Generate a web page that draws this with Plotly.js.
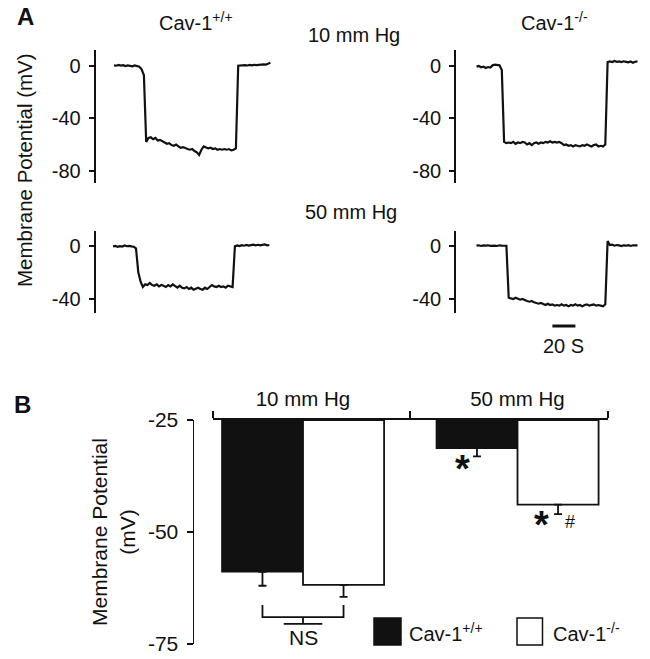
<!DOCTYPE html>
<html><head><meta charset="utf-8">
<script src="https://cdn.plot.ly/plotly-3.0.1.min.js"></script>
<style>html,body{margin:0;padding:0;background:#fff}#chart{width:650px;height:659px}</style>
</head><body><div id="chart"></div>
<script>
// ---------------- DATA ----------------
// Panel A: membrane potential recordings (mV), sampled every 2 s
const timeS = [0,2,4,6,8,10,12,14,16,18,20,22,24,26,28,30,32,34,36,38,40,42,44,46,48,50,52,54,56,58,60,62,64,66,68,70,72,74,76,78,80,82,84,86,88,90,92,94,96,98,100,102,104,106,108,110,112,114,116,118,120,122,124,126,128,130,132,134,136,138,140,142];
const wt10mmHg = [0.5,0.2,0.8,0.3,0.6,0.0,0.5,0.3,-0.2,0.4,0.1,-0.5,-2.5,-7,
  -58,-55,-54.5,-56,-55,-57,-56.5,-57.5,-58,-59.5,
  -59,-60.5,-61,-60,-61.5,-62.5,-62,-63,-63.5,-64,
  -63.5,-65,-66,-68,-64,-61.5,-62.5,-63,-62.5,-63.5,
  -63,-64,-63.5,-64,-63.5,-64,-63.5,-64.5,-64,-63,
  0.2,0.5,0.3,0.6,0.4,0.8,0.5,0.9,0.7,1.0,
  1.0,1.2,1.0,1.8,2.5];
const ko10mmHg = [-0.5,0,-1,-0.5,-1.5,-0.8,-1.2,0.5,1,0.8,0.5,-3,
  -58,-59,-58.5,-59,-58,-59.5,-58.5,-59,-58,-58.5,
  -60,-59,-60.5,-59,-58.5,-59.5,-58.5,-59,-58,-58.5,
  -57.5,-58.5,-58,-58.5,-58,-59,-60.5,-60,-61,-60.5,
  -61.5,-60.5,-61,-61.5,-60.5,-61,-60,-60.5,-61.5,-60.5,
  -60,-61.5,-61,-61.5,-60,
  3,3.5,3,3.8,3.2,3.5,3,3.6,3.2,2.8,3.4,2.5,3.2,3.6];
const wt50mmHg = [-0.5,-0.2,-0.8,-0.3,-0.6,0.2,-0.4,-0.1,-0.5,-0.8,
  -2,-20,-27,-31,-29,-29.5,-28,-29.5,-30,-29,
  -30.5,-29.5,-30,-31,-29.5,-30.5,-29,-30.5,-31.5,-30,
  -31.5,-32,-31,-32.5,-31.5,-33,-32,-31.5,-32.5,-33,
  -31.5,-32.5,-31,-29.5,-30.5,-31,-30,-31,-30.5,-31.5,
  -30,-30.5,-31,
  -0.5,0.2,-0.3,0.4,0,0.6,0.1,0.5,0.8,0.3,0.7,0.2,0.5,0.9,0.3,0.5];
const ko50mmHg = [0,0.3,-0.2,0.2,0,0.3,-0.1,0.2,0,-0.2,0.3,0.1,-0.2,0,
  -39,-39.5,-40,-39,-39.5,-40.5,-40,-41,-41.5,-42,
  -41.5,-42.5,-43,-43.5,-43,-44,-44.5,-43.5,-44.5,-44,
  -45,-44.5,-45,-44,-45,-44.5,-45.5,-44.5,-45,-44,
  -45,-44.5,-45.5,-44.5,-44,-45,-44.5,-44,-45,-44.5,
  -45,-45.5,-44,
  3.5,0.5,0.8,0,0.5,0.2,-0.3,0.3,0,0.4,-0.2,0.3,0,0.2];
const ticksA10 = [0,-40,-80];
const ticksA50 = [0,-40];
const scaleBarSeconds = 20;
const scaleBarStartS = 66;

// Panel B: mean membrane potential (mV) and SEM
const pressureGroups = ['10 mm Hg','50 mm Hg'];
const genotypeNames = ['Cav-1<sup>+/+</sup>','Cav-1<sup>-/-</sup>'];
const meanWT = [-58.9,-31.3];
const meanKO = [-61.8,-43.9];
const semWT = [3.1,1.8];
const semKO = [2.7,2.1];
const barBaseline = -25;
const ticksB = [-25,-50,-75];

// ---------------- LAYOUT HELPERS ----------------
const W = 650, H = 659;
const px = p => p / W;
const py = p => 1 - p / H;
const FONT = '"Liberation Sans", Arial, Helvetica, sans-serif';
const INK = '#111111';
const secPx = 1.15;
const hyphenLabels = arr => arr.map(v => String(v));

const panels = [
  {vals: wt10mmHg, ticks: ticksA10, axisPx: 95.5, startPx: 114, rightPx: 290, topPx: 50, botPx: 183, zeroPx: 66, mvPx: 1.308},
  {vals: ko10mmHg, ticks: ticksA10, axisPx: 456, startPx: 476.5, rightPx: 650, topPx: 50, botPx: 183, zeroPx: 66, mvPx: 1.308},
  {vals: wt50mmHg, ticks: ticksA50, axisPx: 95.5, startPx: 113, rightPx: 290, topPx: 231, botPx: 313, zeroPx: 245.7, mvPx: 1.333},
  {vals: ko50mmHg, ticks: ticksA50, axisPx: 456, startPx: 476.5, rightPx: 650, topPx: 231, botPx: 313, zeroPx: 245.7, mvPx: 1.333}
];

const data = [];
const layout = {
  width: W, height: H,
  margin: {l: 0, r: 0, t: 0, b: 0, pad: 0},
  paper_bgcolor: '#fff', plot_bgcolor: 'rgba(0,0,0,0)',
  font: {family: FONT, color: INK, size: 20},
  showlegend: false,
  barmode: 'group', bargap: 0.244, bargroupgap: 0,
  shapes: [], annotations: []
};

panels.forEach((p, k) => {
  const i = k + 1;
  const xs = i === 1 ? '' : String(i);
  data.push({
    type: 'scatter', mode: 'lines',
    x: timeS.slice(0, p.vals.length), y: p.vals,
    xaxis: 'x' + xs, yaxis: 'y' + xs,
    line: {color: INK, width: 2.2}, hoverinfo: 'skip'
  });
  layout['xaxis' + xs] = {
    domain: [px(p.axisPx), px(p.rightPx)],
    range: [-(p.startPx - p.axisPx) / secPx, (p.rightPx - p.startPx) / secPx],
    anchor: 'y' + xs, visible: false, fixedrange: true
  };
  layout['yaxis' + xs] = {
    domain: [py(p.botPx), py(p.topPx)],
    range: [-(p.botPx - p.zeroPx) / p.mvPx, (p.zeroPx - p.topPx) / p.mvPx],
    anchor: 'x' + xs, tickmode: 'array', tickvals: p.ticks, ticktext: hyphenLabels(p.ticks),
    showline: true, linecolor: INK, linewidth: 1.8,
    ticks: 'outside', ticklen: 5, tickwidth: 1.8, tickcolor: INK,
    showgrid: false, zeroline: false, ticklabelstandoff: 4,
    tickfont: {size: 20, color: INK, family: FONT}, fixedrange: true
  };
});

// Scale bar (20 s) in bottom-right trace axes
layout.shapes.push({type: 'line', xref: 'x4', yref: 'paper',
  x0: scaleBarStartS, x1: scaleBarStartS + scaleBarSeconds, y0: py(326), y1: py(326),
  line: {color: INK, width: 3}});
layout.annotations.push({xref: 'x4', yref: 'paper', x: scaleBarStartS + scaleBarSeconds / 2, y: py(346),
  text: scaleBarSeconds + ' S', showarrow: false, xanchor: 'center', yanchor: 'middle', font: {size: 20}});

// Panel A labels
const ann = (x, y, text, opts) => Object.assign({xref: 'paper', yref: 'paper', x: px(x), y: py(y), text, showarrow: false, xanchor: 'center', yanchor: 'middle', font: {size: 20}}, opts || {});
layout.annotations.push(ann(25, 16.5, '<b>A</b>', {font: {size: 24}}));
layout.annotations.push(ann(22, 404, '<b>B</b>', {font: {size: 24}}));
layout.annotations.push(ann(157, 22, genotypeNames[0], {xanchor: 'left'}));
layout.annotations.push(ann(519, 22, genotypeNames[1], {xanchor: 'left'}));
layout.annotations.push(ann(354, 35, pressureGroups[0]));
layout.annotations.push(ann(351, 212, pressureGroups[1]));
layout.annotations.push(ann(25, 170, 'Membrane Potential (mV)', {textangle: -90, font: {size: 20.5}}));

// ---------------- PANEL B ----------------
const groupPx = 214.5;
const xRangeB = [-90 / groupPx, 1 + 90.5 / groupPx];
const xPos = [0, 1];
data.push({
  type: 'bar', x: xPos, y: meanWT.map(v => v - barBaseline), base: barBaseline,
  xaxis: 'x5', yaxis: 'y5', name: genotypeNames[0],
  marker: {color: INK, line: {color: INK, width: 1.5}},
  error_y: {type: 'data', symmetric: false, array: [0, 0], arrayminus: semWT, color: INK, thickness: 1.8, width: 4},
  hoverinfo: 'skip'
});
data.push({
  type: 'bar', x: xPos, y: meanKO.map(v => v - barBaseline), base: barBaseline,
  xaxis: 'x5', yaxis: 'y5', name: genotypeNames[1],
  marker: {color: '#ffffff', line: {color: INK, width: 1.8}},
  error_y: {type: 'data', symmetric: false, array: [0, 0], arrayminus: semKO, color: INK, thickness: 1.8, width: 4},
  hoverinfo: 'skip'
});
layout.xaxis5 = {
  domain: [px(213), px(608)], range: xRangeB, anchor: 'y5', side: 'top',
  tickmode: 'array', tickvals: xPos, ticktext: pressureGroups, ticks: '',
  showline: true, linecolor: INK, linewidth: 1.8, showgrid: false, zeroline: false,
  tickfont: {size: 20.5, color: INK}, ticklabelstandoff: 4,
  minor: {tickmode: 'array', tickvals: [xRangeB[0] + 0.001, 0.5, xRangeB[1] - 0.001], ticks: 'outside', ticklen: 7, tickwidth: 1.8, tickcolor: INK, showgrid: false},
  fixedrange: true
};
layout.yaxis5 = {
  domain: [py(644), py(420)], range: [-75, -25], anchor: 'free', position: px(192.5),
  tickmode: 'array', tickvals: ticksB, ticktext: hyphenLabels(ticksB),
  ticks: 'outside', ticklen: 6, tickwidth: 1.8, tickcolor: INK,
  showline: true, linecolor: INK, linewidth: 1.8, showgrid: false, zeroline: false,
  tickfont: {size: 21, color: INK}, ticklabelstandoff: 4,
  title: {text: 'Membrane Potential<br>(mV)', font: {size: 21, color: INK}, standoff: 5},
  fixedrange: true
};

// NS bracket between the two 10 mm Hg bars
const barOff = (1 - layout.bargap) / 4;
const yBr = -69, yBrEnd = -66.3, yStem = -70.5, half = 0.09;
layout.shapes.push({type: 'path', xref: 'x5', yref: 'y5',
  path: `M${-barOff},${yBrEnd} L${-barOff},${yBr} L${barOff},${yBr} L${barOff},${yBrEnd} M0,${yBr} L0,${yStem} M${-half},${yStem} L${half},${yStem}`,
  line: {color: INK, width: 1.8}});
layout.annotations.push({xref: 'x5', yref: 'y5', x: 0, y: -73.5, text: 'NS', showarrow: false, font: {size: 21}, xanchor: 'center', yanchor: 'middle'});

// significance marks
layout.annotations.push(ann(462.5, 469, '<b>*</b>', {font: {size: 38}}));
layout.annotations.push(ann(541.5, 525, '<b>*</b>', {font: {size: 38}}));
layout.annotations.push(ann(570, 522, '#', {font: {size: 18}}));

// Legend (manual)
layout.shapes.push({type: 'rect', xref: 'paper', yref: 'paper', x0: px(374), x1: px(401), y0: py(645), y1: py(618), fillcolor: INK, line: {color: INK, width: 1.5}});
layout.shapes.push({type: 'rect', xref: 'paper', yref: 'paper', x0: px(517), x1: px(542.5), y0: py(645), y1: py(618), fillcolor: '#fff', line: {color: INK, width: 1.5}});
layout.annotations.push(ann(407, 632, genotypeNames[0], {xanchor: 'left'}));
layout.annotations.push(ann(551, 632, genotypeNames[1], {xanchor: 'left'}));

Plotly.newPlot('chart', data, layout, {staticPlot: true, displayModeBar: false});
</script>
</body></html>
